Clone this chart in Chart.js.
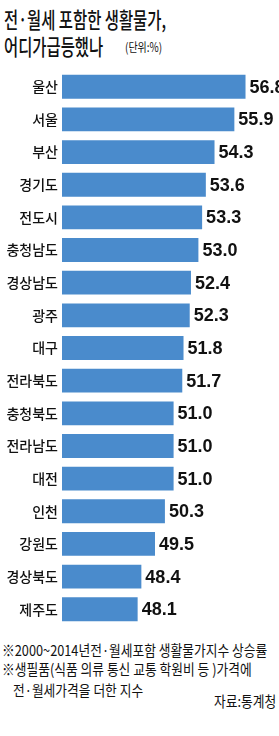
<!DOCTYPE html>
<html>
<head>
<meta charset="utf-8">
<script src="https://cdn.jsdelivr.net/npm/chart.js@4.4.0/dist/chart.umd.min.js"></script>
<style>
    body { margin: 0; background: #fff; width: 279px; height: 736px; position: relative; overflow: hidden; font-family: 'Noto Sans CJK KR', sans-serif; color: #111; }
    .txt { position: absolute; white-space: nowrap; transform-origin: left top; }
    #title1 { left: 4px; top: 2px; font-size: 22px; font-weight: 500; transform: scaleX(0.7); }
    #title2 { left: 4px; top: 29px; font-size: 22px; font-weight: 500; transform: scaleX(0.7); }
    #unit { left: 125px; top: 37px; font-size: 12.5px; transform: scaleX(0.8); }
    #note1 { left: 2px; top: 639px; font-size: 15px; transform: scaleX(0.85); }
    #note2 { left: 2px; top: 658px; font-size: 15px; transform: scaleX(0.85); }
    #note3 { left: 13px; top: 679px; font-size: 15px; transform: scaleX(0.85); }
    #source { right: 3px; top: 690px; font-size: 15px; transform: scaleX(0.85); transform-origin: right top; }
    #wrap { position: absolute; left: 0; top: 58px; width: 279px; height: 580px; }
</style>
</head>
<body>
<div class="txt" id="title1">전·월세 포함한 생활물가,</div>
<div class="txt" id="title2">어디가급등했나</div>
<div class="txt" id="unit">(단위:%)</div>
<div id="wrap"><canvas id="barChart"></canvas></div>
<div class="txt" id="note1">※2000~2014년전·월세포함 생활물가지수 상승률</div>
<div class="txt" id="note2">※생필품(식품 의류 통신 교통 학원비 등 )가격에</div>
<div class="txt" id="note3">전·월세가격을 더한 지수</div>
<div class="txt" id="source">자료:통계청</div>

<script>
// --- data ---
const regions = ['울산', '서울', '부산', '경기도', '전도시', '충청남도', '경상남도', '광주', '대구',
    '전라북도', '충청북도', '전라남도', '대전', '인천', '강원도', '경상북도', '제주도'];
const rates = [56.8, 55.9, 54.3, 53.6, 53.3, 53.0, 52.4, 52.3, 51.8, 51.7, 51.0, 51.0, 51.0, 50.3, 49.5, 48.4, 48.1];

// value labels at the end of each bar
const valueLabels = {
    id: 'valueLabels',
    afterDatasetsDraw(chart) {
        const ctx = chart.ctx;
        const meta = chart.getDatasetMeta(0);
        ctx.save();
        ctx.font = 'bold 18px "Liberation Sans Narrow", "Liberation Sans", sans-serif';
        ctx.fillStyle = '#111';
        ctx.textAlign = 'left';
        ctx.textBaseline = 'middle';
        meta.data.forEach((bar, i) => {
            ctx.fillText(rates[i].toFixed(1), bar.x + 4, bar.y + 1);
        });
        ctx.restore();
    }
};

const ctx = document.getElementById('barChart').getContext('2d');
const barChart = new Chart(ctx, {
    type: 'bar',
    data: {
        labels: regions,
        datasets: [{ data: rates, backgroundColor: '#4a8bcc', barPercentage: 0.73, categoryPercentage: 1 }]
    },
    options: {
        indexAxis: 'y',
        responsive: true,
        maintainAspectRatio: false,
        animation: false,
        layout: { padding: 0 },
        plugins: { legend: { display: false }, tooltip: { enabled: false } },
        scales: {
            x: { display: false, min: 42, max: 59.5 },
            y: {
                border: { display: false },
                grid: { display: false, drawTicks: false },
                ticks: {
                    padding: 4,
                    color: '#111',
                    font: { family: '"Noto Sans CJK KR", sans-serif', size: 14, weight: 500 }
                },
                afterFit(scale) { scale.width = 62; }
            }
        }
    },
    plugins: [valueLabels]
});
</script>
</body>
</html>
